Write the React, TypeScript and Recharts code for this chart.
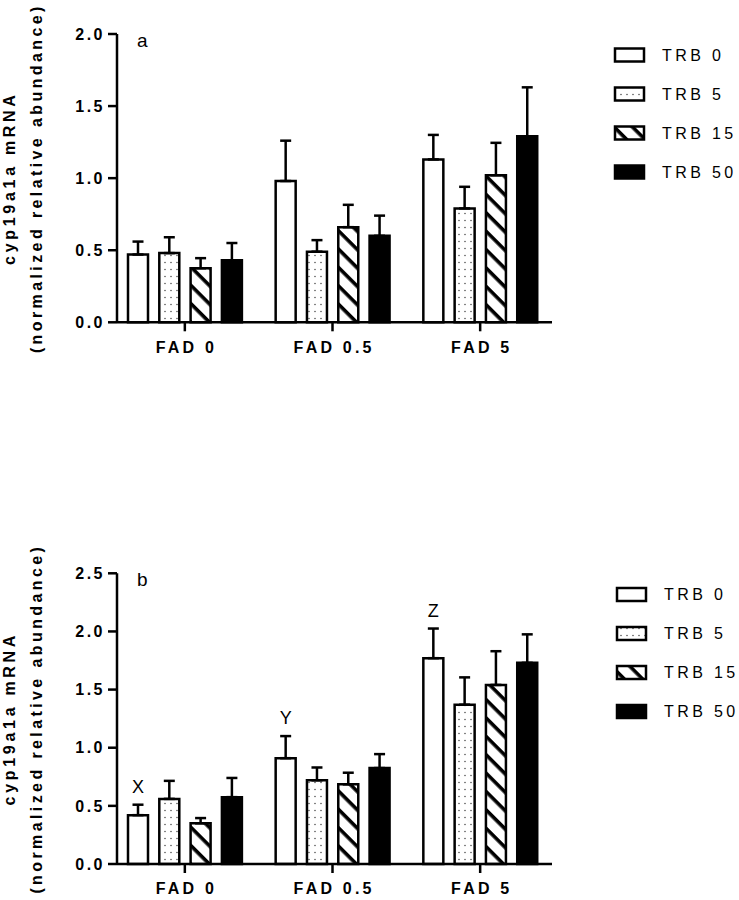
import { Bar, BarChart, ErrorBar, Legend, Rectangle, XAxis, YAxis } from "recharts";

const FONT = "'Liberation Sans', Arial, sans-serif";

const categories = ["FAD 0", "FAD 0.5", "FAD 5"];
const seriesNames = ["TRB 0", "TRB 5", "TRB 15", "TRB 50"];

// panel a: means and upper SEM per TRB group, one value per FAD category
const aTrb0 = [0.47, 0.98, 1.13];
const aTrb5 = [0.48, 0.49, 0.79];
const aTrb15 = [0.375, 0.66, 1.02];
const aTrb50 = [0.43, 0.6, 1.29];
const aTrb0Err = [0.09, 0.28, 0.17];
const aTrb5Err = [0.11, 0.08, 0.15];
const aTrb15Err = [0.07, 0.155, 0.225];
const aTrb50Err = [0.12, 0.14, 0.34];
const aTicks = [0, 0.5, 1, 1.5, 2];

// panel b
const bTrb0 = [0.42, 0.91, 1.77];
const bTrb5 = [0.56, 0.72, 1.37];
const bTrb15 = [0.35, 0.685, 1.54];
const bTrb50 = [0.575, 0.825, 1.73];
const bTrb0Err = [0.09, 0.19, 0.255];
const bTrb5Err = [0.155, 0.11, 0.235];
const bTrb15Err = [0.045, 0.1, 0.29];
const bTrb50Err = [0.165, 0.12, 0.245];
const bLetters = ["X", "Y", "Z"];
const bTicks = [0, 0.5, 1, 1.5, 2, 2.5];

function buildRows(means: number[][], errs: number[][], letters?: string[]) {
  return categories.map((cat, i) => {
    const row: any = { cat, letter: letters ? letters[i] : "" };
    means.forEach((m, s) => {
      row["s" + s] = m[i];
      row["e" + s] = [0, errs[s][i]];
    });
    return row;
  });
}

const rowsA = buildRows([aTrb0, aTrb5, aTrb15, aTrb50], [aTrb0Err, aTrb5Err, aTrb15Err, aTrb50Err]);
const rowsB = buildRows([bTrb0, bTrb5, bTrb15, bTrb50], [bTrb0Err, bTrb5Err, bTrb15Err, bTrb50Err], bLetters);

const fillsFor = (id: string) => ["#fff", `url(#dots-${id})`, `url(#hatch-${id})`, "#000"];

function Patterns({ id }: { id: string }) {
  return (
    <defs>
      <pattern id={`dots-${id}`} width={6} height={7} patternUnits="userSpaceOnUse">
        <rect width={6} height={7} fill="#fff" />
        <circle cx={3} cy={3.5} r={0.8} fill="#555" />
      </pattern>
      <pattern id={`hatch-${id}`} width={13} height={13} patternUnits="userSpaceOnUse" patternTransform="rotate(45)">
        <rect width={13} height={13} fill="#fff" />
        <rect width={13} height={3.6} fill="#000" />
      </pattern>
    </defs>
  );
}

function LegendBox({ id, x0, y0 }: { id: string; x0: number; y0: number }) {
  const fills = fillsFor(id);
  return (
    <svg width={139} height={300} style={{ display: "block", overflow: "visible" }}>
      {seriesNames.map((name, i) => {
        const cy = y0 + i * 39;
        return (
          <g key={name}>
            <rect x={x0} y={cy - 6.5} width={29} height={13} fill={fills[i]} stroke="#000" strokeWidth={2.5} />
            <text x={x0 + 47} y={cy + 5.7} fontSize={16} fontFamily={FONT} letterSpacing={3.4} fill="#000">
              {name}
            </text>
          </g>
        );
      })}
    </svg>
  );
}

function AxisTitle({ cy, letter, letterY }: { cy: number; letter: string; letterY: number }) {
  return (
    <g fontFamily={FONT} fill="#000">
      <text x={15.5} y={cy} transform={`rotate(-90, 15.5, ${cy})`} textAnchor="middle" fontWeight="bold" fontSize={16} letterSpacing={3.7}>
        cyp19a1a mRNA
      </text>
      <text x={42.5} y={cy} transform={`rotate(-90, 42.5, ${cy})`} textAnchor="middle" fontWeight="bold" fontSize={16} letterSpacing={3.4}>
        (normalized relative abundance)
      </text>
      <text x={137} y={letterY} fontSize={19}>
        {letter}
      </text>
    </g>
  );
}

const LetterBar = (props: any) => {
  const { x, y, width, height, payload, fill, stroke, strokeWidth } = props;
  const val = payload.s0;
  const err = payload.e0[1];
  const errTop = val > 0 ? y - (err * height) / val : y;
  return (
    <g>
      <Rectangle x={x} y={y} width={width} height={height} fill={fill} stroke={stroke} strokeWidth={strokeWidth} />
      {payload.letter ? (
        <text x={x + width / 2} y={errTop - 12} textAnchor="middle" fontSize={18} fontFamily={FONT} fill="#000">
          {payload.letter}
        </text>
      ) : null}
    </g>
  );
};

interface PanelProps {
  id: string;
  rows: any[];
  ticks: number[];
  plotTop: number;
  plotBottom: number;
  letter: string;
  legendX: number;
  legendY: number;
  withLetters?: boolean;
}

function Panel({ id, rows, ticks, plotTop, plotBottom, letter, legendX, legendY, withLetters }: PanelProps) {
  const fills = fillsFor(id);
  const cy = (plotTop + plotBottom) / 2;
  return (
    <BarChart
      width={739}
      height={450}
      data={rows}
      margin={{ top: plotTop, right: 187, bottom: 450 - plotBottom - 30, left: 57 }}
      barSize={20}
      barGap={11.3}
    >
      <Patterns id={id} />
      <XAxis
        dataKey="cat"
        height={30}
        padding={{ left: -6, right: -2 }}
        axisLine={{ stroke: "#000", strokeWidth: 2.5 }}
        tickLine={{ stroke: "#000", strokeWidth: 2.5 }}
        tickSize={9}
        tickMargin={10}
        tick={{ fill: "#000", fontSize: 16, fontWeight: "bold", fontFamily: FONT, letterSpacing: 3.2, dx: 1.6 }}
      />
      <YAxis
        width={60}
        domain={[0, ticks[ticks.length - 1]]}
        ticks={ticks}
        interval={0}
        tickFormatter={(v: number) => v.toFixed(1)}
        axisLine={{ stroke: "#000", strokeWidth: 2.5 }}
        tickLine={{ stroke: "#000", strokeWidth: 2.5 }}
        tickSize={9}
        tickMargin={3}
        tick={{ fill: "#000", fontSize: 16, fontWeight: "bold", fontFamily: FONT, letterSpacing: 2.5 }}
        label={<AxisTitle cy={cy} letter={letter} letterY={plotTop + 13} />}
      />
      <Legend
        layout="vertical"
        align="center"
        verticalAlign="middle"
        wrapperStyle={{ left: 600, top: 0, width: 139, height: 300 }}
        content={() => <LegendBox id={id} x0={legendX} y0={legendY} />}
      />
      {seriesNames.map((name, i) => (
        <Bar
          key={name}
          name={name}
          dataKey={"s" + i}
          fill={fills[i]}
          stroke="#000"
          strokeWidth={2.5}
          isAnimationActive={false}
          shape={withLetters && i === 0 ? LetterBar : undefined}
        >
          <ErrorBar dataKey={"e" + i} width={5.5} strokeWidth={2.5} stroke="#000" direction="y" isAnimationActive={false} />
        </Bar>
      ))}
    </BarChart>
  );
}

export default function App() {
  return (
    <div style={{ position: "absolute", left: 0, top: 0, width: 739, height: 900, background: "#fff" }}>
      <Panel id="a" rows={rowsA} ticks={aTicks} plotTop={34} plotBottom={322.3} letter="a" legendX={15} legendY={55} />
      <Panel
        id="b"
        rows={rowsB}
        ticks={bTicks}
        plotTop={123.3}
        plotBottom={414}
        letter="b"
        legendX={17}
        legendY={144.5}
        withLetters
      />
    </div>
  );
}
